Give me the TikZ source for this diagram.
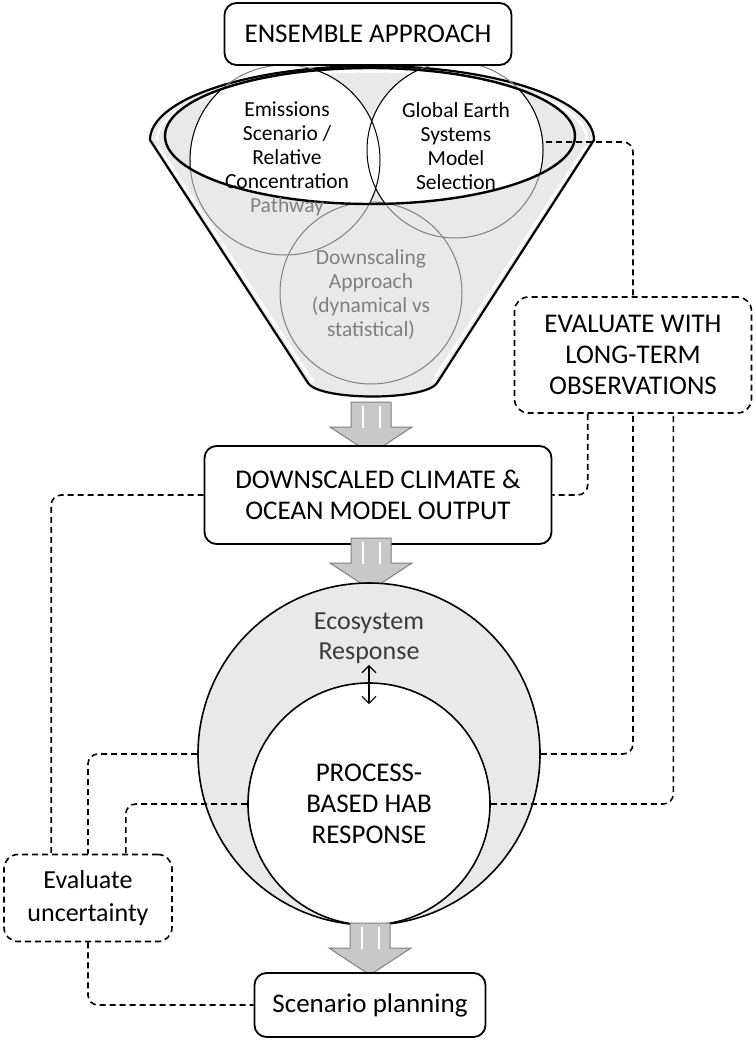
\documentclass[tikz,border=0pt]{standalone}
\usepackage{fontspec}
\setmainfont{Carlito}
\usetikzlibrary{calc,arrows.meta}
\definecolor{funnelgray}{HTML}{E9E9E9}
\definecolor{rimgray}{HTML}{808080}
\definecolor{arrowgray}{HTML}{C8C8C8}
\definecolor{ecotext}{HTML}{3A3A3A}
\newcommand{\blockarrow}[1]{%top centre of the shaft
  \draw[blockarr] ($(#1)+(-20,0)$) -- ++(0,25) -- ++(-21,0)
  -- ++(41,27) -- ++(41,-27) -- ++(-21,0) -- ++(0,-25) -- cycle;
  \draw[white, line width=1.6pt] ($(#1)+(-8,4)$) -- ++(0,22);
  \draw[white, line width=1.6pt] ($(#1)+(9,4)$) -- ++(0,22);
}

\begin{document}
\begin{tikzpicture}[x=1pt, y=-1pt,
    font=\fontsize{27}{31}\selectfont,
    box/.style={draw, line width=1.8pt, rounded corners=12pt, fill=white,
      align=center, inner sep=0pt},
    evalbox/.style={draw, line width=1.6pt, dash pattern=on 6pt off 4pt,
      rounded corners=14pt, fill=white, align=center, inner sep=0pt},
    dashline/.style={line width=1.6pt, dash pattern=on 6pt off 4pt,
      rounded corners=10pt},
    blockarr/.style={fill=arrowgray, draw=gray, line width=1pt},
    bubble/.style={align=center, font=\fontsize{21.5}{24}\selectfont},
    ring/.style={draw, circle, line width=1.6pt, inner sep=0pt}]
  \useasboundingbox (0,0) rectangle (755,1041);
  %funnel body
  \filldraw[fill=funnelgray, line width=2.2pt] (150,140)
    arc[start angle=180, end angle=360, x radius=222, y radius=74]
    -- (437,383) .. controls (425,401) and (320,401) .. (308,383) -- cycle;
  \draw[white, line width=3pt] (157,140)
    arc[start angle=180, end angle=360, x radius=215, y radius=69];
  \draw[white, line width=2.5pt] (586,146) -- (432,382);
  \draw[white, line width=2.5pt] (158,146) -- (313,382);
  %the three choices
  \draw[rimgray, line width=1pt] (371,293) circle[radius=91];
  \draw[rimgray, line width=1pt] (285,160) circle[radius=95];
  \draw[rimgray, line width=1pt] (455,150) circle[radius=88];
  \begin{scope}
    \clip (370,136) ellipse[x radius=205, y radius=68];
    \fill[white] (285,160) circle[radius=95] (455,150) circle[radius=88];
    \draw[line width=1pt] (285,160) circle[radius=95] (455,150) circle[radius=88];
  \end{scope}
  \draw[line width=2.4pt] (370,136) ellipse[x radius=205, y radius=68];
  \node[bubble] (emi) at (287,159) {Emissions\\Scenario /\\Relative\\Concentration\\\textcolor{rimgray}{Pathway}};
  \node[bubble] (glo) at (456,146) {Global Earth\\Systems\\Model\\Selection};
  \node[bubble, text=rimgray] (dsc) at (371,295) {Downscaling\\Approach\\(dynamical vs\\statistical)};
  \coordinate (gloE) at (546,142);
  \node[box, minimum width=287pt, minimum height=62pt] (ens) at (368,34) {ENSEMBLE APPROACH};
  %model output
  \coordinate (a1) at (371,402);
  \blockarrow{a1}
  \node[box, minimum width=347pt, minimum height=98pt] (dco) at (378,495)
    {DOWNSCALED CLIMATE \&\\OCEAN MODEL OUTPUT};
  \coordinate (a2) at (371,538);
  \blockarrow{a2}
  %ecosystem and HAB response
  \node[ring, fill=funnelgray, minimum size=342pt] (eco) at (369,754) {};
  \node[text=ecotext, align=center, font=\fontsize{26}{30}\selectfont]
    (ecotxt) at (369,638) {Ecosystem\\Response};
  \node[ring, fill=white, minimum size=242pt, align=center] (hab) at (369,804)
    {PROCESS-\\BASED HAB\\RESPONSE};
  \draw[{Straight Barb[length=7pt,width=14pt]}-{Straight Barb[length=7pt,width=14pt]}, line width=1.2pt]
    ($(ecotxt.south)+(0,-2)$) -- ($(hab.north)+(0,22)$);
  \coordinate (a3) at (370,923);
  \blockarrow{a3}
  \node[box, minimum width=231pt, minimum height=64pt] (scn) at (370,1005) {Scenario planning};
  %evaluation boxes
  \node[evalbox, minimum width=168pt, minimum height=87pt,
    font=\fontsize{26}{33}\selectfont] (evu) at (88,898) {Evaluate\\uncertainty};
  \node[evalbox, minimum width=237pt, minimum height=116pt] (evl) at (633,355)
    {EVALUATE WITH\\LONG-TERM\\OBSERVATIONS};
  %dashed links
  \draw[dashline] (gloE) -| (evl.north);
  \draw[dashline] ($(evl.south west)+(74,0)$) |- (dco.east);
  \draw[dashline] (eco.east) -| (evl.south);
  \draw[dashline] (hab.east) -| ($(evl.south east)+(-79,0)$);
  \draw[dashline] (dco.west) -| ($(evu.north west)+(48,0)$);
  \draw[dashline] (eco.west) -| (evu.north);
  \draw[dashline] (hab.west) -| ($(evu.north east)+(-47,0)$);
  \draw[dashline] (evu.south) |- (scn.west);
\end{tikzpicture}
\end{document}
